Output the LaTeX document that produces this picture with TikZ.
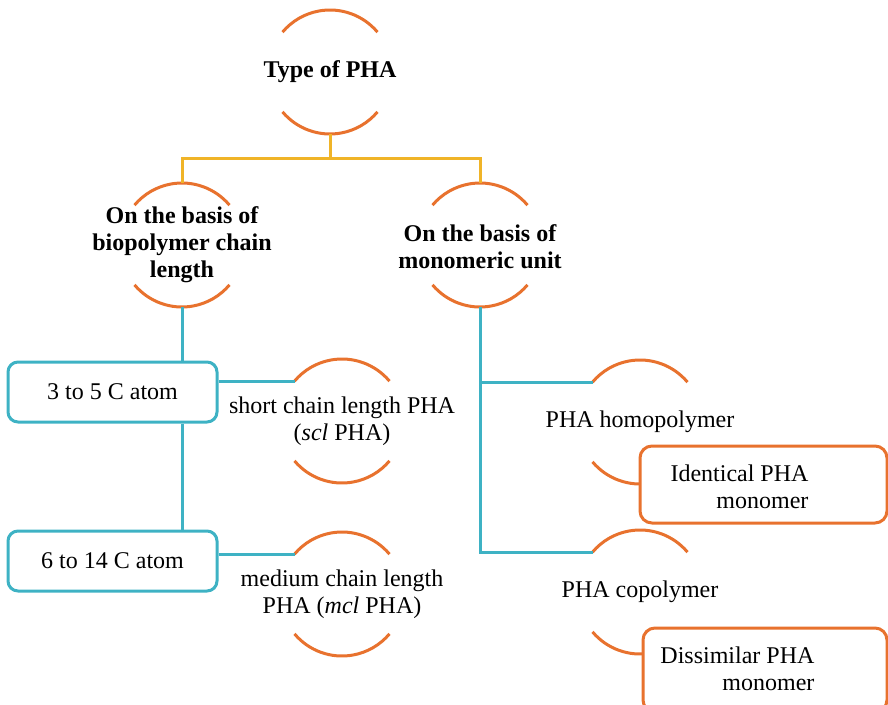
\documentclass[tikz,border=0pt]{standalone}
\usepackage{fontspec}
\setmainfont{Liberation Serif}
\usetikzlibrary{positioning}

\definecolor{phaorange}{RGB}{232,114,46}
\definecolor{phagold}{RGB}{240,180,40}
\definecolor{phateal}{RGB}{62,178,196}

\newcommand{\phasize}{\fontsize{24}{27}\selectfont}

\tikzset{
  ring/.style={circle, minimum size=124pt, inner sep=0pt, outer sep=0pt},
  arcline/.style={phaorange, line width=3pt},
  goldline/.style={phagold, line width=3pt},
  tealline/.style={phateal, line width=3pt},
  tealbox/.style={draw=phateal, line width=3pt, rounded corners=10pt,
    minimum width=209pt, minimum height=60pt, inner sep=0pt},
  orangebox/.style={draw=phaorange, fill=white, line width=3pt, rounded corners=12pt},
  head/.style={font=\phasize\bfseries, align=center},
  leaf/.style={font=\phasize, align=center}
}

% both arcs of a ring node
\newcommand{\ringarcs}[1]{%
  \draw[arcline] (#1.40) arc (40:140:62pt);
  \draw[arcline] (#1.220) arc (220:320:62pt);}

\begin{document}
\begin{tikzpicture}[x=1pt,y=1pt,font=\phasize]
  \clip (0,0) rectangle (888,-704);

  % rings round the headings
  \node[ring] (typering) at (330,-72) {};
  \node[ring] (chainring) at (182,-245) {};
  \node[ring] (monoring) at (480,-245) {};
  \node[ring] (sclring) at (342,-421) {};
  \node[ring] (mclring) at (342,-594) {};
  \node[ring] (homoring) at (640,-422) {};
  \node[ring] (coporing) at (640,-592) {};

  \ringarcs{typering}
  \ringarcs{chainring}
  \ringarcs{monoring}
  \ringarcs{sclring}
  \ringarcs{mclring}
  \ringarcs{homoring}
  \ringarcs{coporing}

  % texts
  \node[head] (type) at (typering) {Type of PHA};
  \node[head] (chain) at (chainring) {On the basis of\\biopolymer chain\\length};
  \node[head] (mono) at ([yshift=-2pt]monoring.center) {On the basis of\\monomeric unit};
  \node[leaf] (scl) at (sclring) {short chain length PHA\\(\textit{scl} PHA)};
  \node[leaf] (mcl) at (mclring) {medium chain length\\PHA (\textit{mcl} PHA)};
  \node[leaf] (homo) at (homoring) {PHA homopolymer};
  \node[leaf] (copo) at (coporing) {PHA copolymer};

  % carbon atom boxes
  \node[tealbox] (short) at (112.5,-392) {3 to 5 C atom};
  \node[tealbox] (medium) at (112.5,-561) {6 to 14 C atom};

  % monomer boxes (cover the end of the lower arcs)
  \node[orangebox, minimum width=247pt, minimum height=77pt] (idbox) at (763.5,-484.5) {};
  \node[leaf, align=right, anchor=east] (idtxt) at (812,-487) {Identical PHA\\monomer};
  \node[orangebox, minimum width=244pt, minimum height=84pt] (disbox) at (765,-670) {};
  \node[leaf, align=right, anchor=east] (distxt) at (818,-669) {Dissimilar PHA\\monomer};

  % gold split below the top
  \coordinate (split) at (330,-158);
  \draw[goldline] (typering.south) -- (split);
  \draw[goldline] (split) -| (chainring.north);
  \draw[goldline] (split) -| (monoring.north);

  % teal connectors, chain length side
  \draw[tealline] (chainring.south) -- (chainring.south |- short.north);
  \draw[tealline] (chainring.south |- short.south) -- (chainring.south |- medium.north);
  \draw[tealline] (sclring.140) -- (sclring.140 -| short.east);
  \draw[tealline] (mclring.140) -- (mclring.140 -| medium.east);

  % teal connectors, monomeric unit side
  \draw[tealline] (monoring.south) |- (homoring.140);
  \draw[tealline] (monoring.south) |- (coporing.140);

\end{tikzpicture}
\end{document}
